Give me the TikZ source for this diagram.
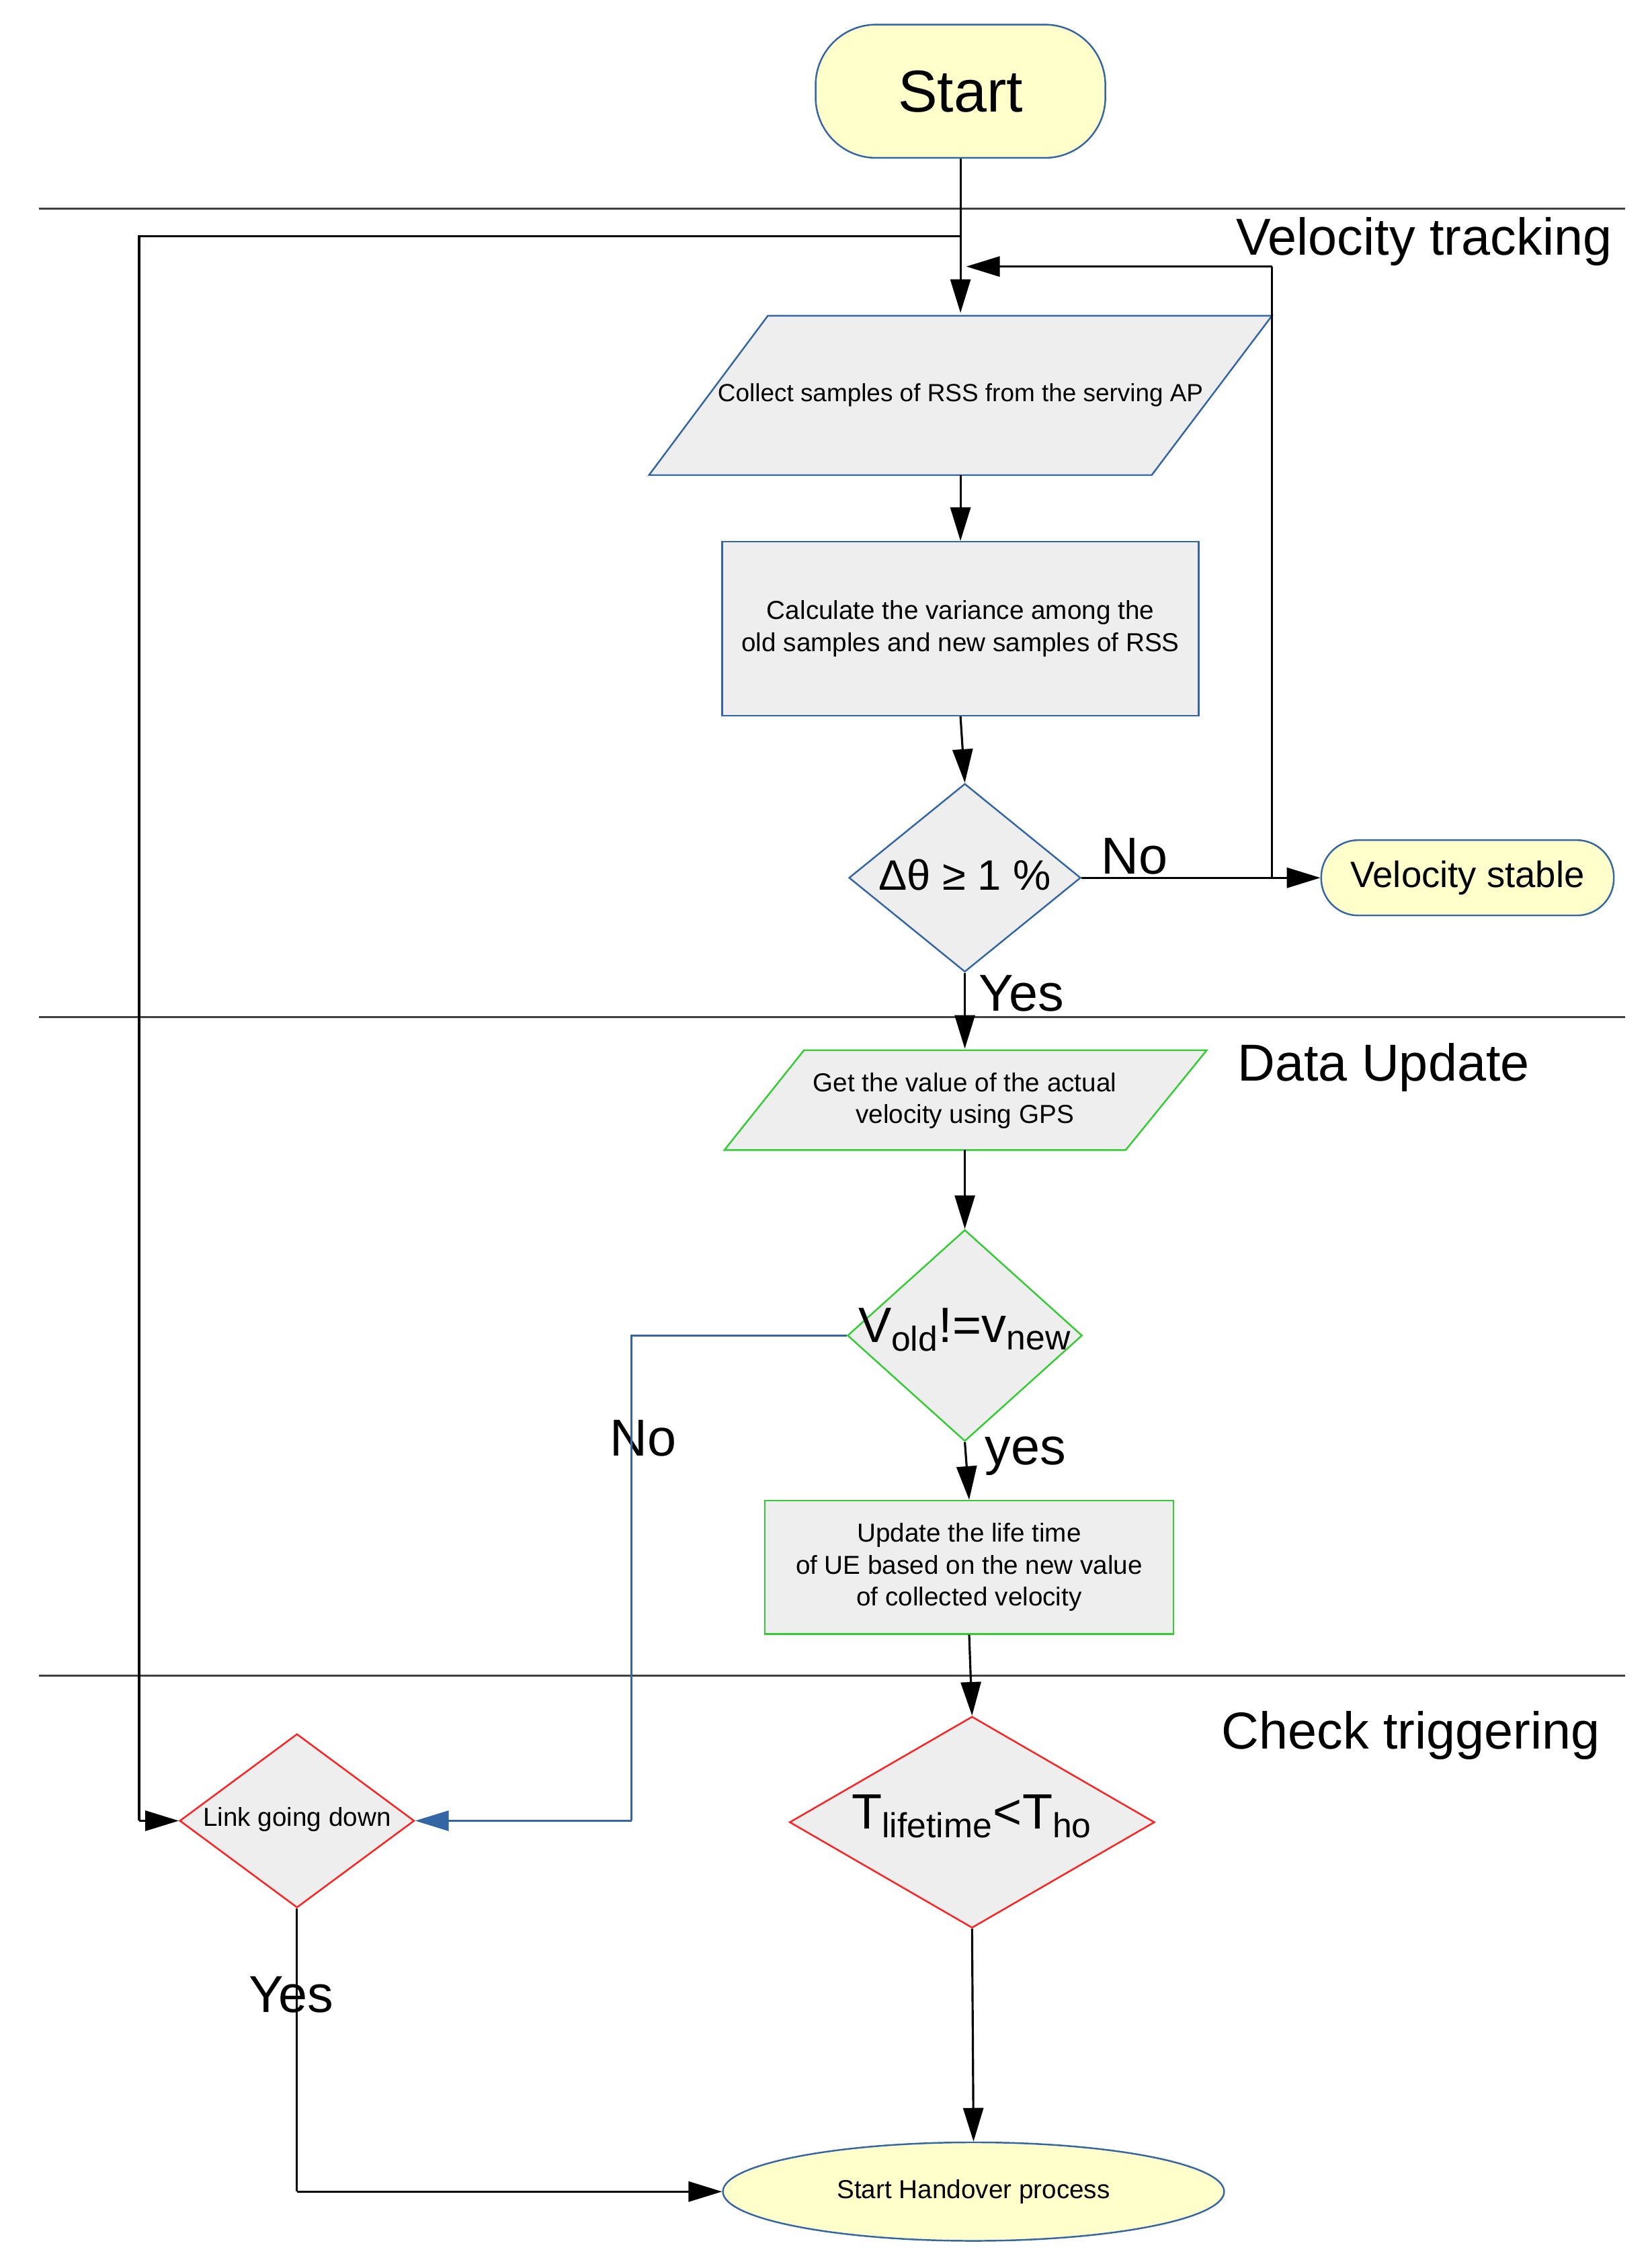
\documentclass[tikz,border=0pt]{standalone}
\usepackage{fontspec}
\setmainfont{Liberation Sans}
\usetikzlibrary{shapes.geometric,arrows.meta}
\definecolor{yel}{HTML}{FFFFCC}
\definecolor{bl}{HTML}{3465A4}
\definecolor{gr}{HTML}{EEEEEE}
\definecolor{grn}{HTML}{33CC33}
\definecolor{rd}{HTML}{FF2020}
\def\p{0.02155cm}
\begin{document}
\begin{tikzpicture}[x=0.02155cm,y=-0.02155cm,
  arr/.style={-{Triangle[length=0.5cm,width=0.3cm]},line width=0.9pt},
  ln/.style={line width=0.9pt},
  term/.style={draw=bl,fill=yel,line width=0.7pt},
  box/.style={draw,fill=gr,line width=0.7pt,align=center,font=\fontsize{11}{13.5}\selectfont},
  dia/.style={diamond,draw,fill=gr,line width=0.7pt,inner sep=0pt},
  big/.style={font=\fontsize{22}{26}\selectfont},
  sep/.style={line width=0.9pt,black!75}]
\useasboundingbox (0,0) rectangle (1140,1563);
% separators
\draw[sep] (27,144) -- (1122,144);
\draw[sep] (27,702) -- (1122,702);
\draw[sep] (27,1157) -- (1122,1157);
\node[big] (lvt) at (983,167) {Velocity tracking};
\node[big] (ldu) at (955,737) {Data Update};
\node[big] (lct) at (974,1198) {Check triggering};
% start
\node[term,rounded corners=0.9cm,minimum width=200*\p,minimum height=92*\p,font=\fontsize{25}{30}\selectfont] (start) at (663,63) {Start};
% collect parallelogram
\draw[draw=bl,fill=gr,line width=0.7pt] (530,218) -- (878,218) -- (795,328) -- (448,328) -- cycle;
\node[font=\fontsize{10.5}{13}\selectfont,minimum height=110*\p] (collect) at (663,273) {Collect samples of RSS from the serving AP};
% variance
\node[box,draw=bl,minimum width=329*\p,minimum height=120*\p] (var) at (663,434) {Calculate the variance among the\\old samples and new samples of RSS};
% decision 1
\node[dia,draw=bl,aspect=1.23,minimum width=160*\p,minimum height=130*\p] (d1) at (666,606) {};
\node[font=\fontsize{18}{20}\selectfont] at (666,604) {Δθ ≥ 1 \%};
\node[term,rounded corners=0.55cm,minimum width=202*\p,minimum height=52*\p,font=\fontsize{15.5}{18}\selectfont] (vs) at (1013,606) {Velocity stable};
\node[big] at (783,591) {No};
\node[big] at (705,686) {Yes};
% GPS parallelogram
\draw[draw=grn,fill=gr,line width=0.7pt] (555,725) -- (833,725) -- (777,794) -- (500,794) -- cycle;
\node[align=center,font=\fontsize{11}{13.5}\selectfont,minimum height=69*\p] (gps) at (666,760) {Get the value of the actual\\velocity using GPS};
% decision 2
\node[dia,draw=grn,aspect=1.11,minimum width=162*\p,minimum height=146*\p] (d2) at (666,922) {};
\node[font=\fontsize{21}{24}\selectfont] at (666,918) {V\textsubscript{old}!=v\textsubscript{new}};
\node[big] at (444,993) {No};
\node[big] at (708,1005) {yes};
% update
\node[box,draw=grn,minimum width=282*\p,minimum height=92*\p] (upd) at (669,1082) {Update the life time\\of UE based on the new value\\of collected velocity};
% decision 3
\node[dia,draw=rd,aspect=1.73,minimum width=252*\p,minimum height=146*\p] (d3) at (671,1258) {};
\node[font=\fontsize{21}{24}\selectfont] at (671,1254) {T\textsubscript{lifetime}<T\textsubscript{ho}};
% link going down
\node[dia,draw=rd,aspect=1.35,minimum width=162*\p,minimum height=120*\p] (lgd) at (205,1257) {};
\node[font=\fontsize{11}{13}\selectfont] at (205,1256) {Link going down};
\node[big] at (201,1377) {Yes};
% handover
\node[ellipse,draw=bl,fill=yel,line width=0.7pt,minimum width=346*\p,minimum height=68*\p,font=\fontsize{11}{13}\selectfont] (ho) at (672,1513) {Start Handover process};
% connectors
\coordinate (j1) at (663,163);
\coordinate (j2) at (96,163);
\coordinate (j3) at (96,1257);
\draw[arr] (start) -- (663,216);
\draw[ln] (j1) -- (j2) -- (j3);
\draw[arr] (j3) -- (lgd.west);
\draw[arr] (663,328) -- (var.north);
\draw[arr] (var.south) -- (d1.north);
\draw[arr] (d1.east) -- (vs.west);
\coordinate (r1) at (878,606);
\coordinate (r2) at (878,184);
\draw[ln] (r1) -- (r2);
\draw[arr] (r2) -- (667,184);
\draw[arr] (d1.south) -- (666,724);
\draw[arr] (666,794) -- (d2.north);
\draw[arr] (d2.south) -- (upd.north);
\coordinate (b1) at (436,922);
\coordinate (b2) at (436,1257);
\draw[ln,bl] (d2.west) -- (b1) -- (b2);
\draw[arr,bl] (b2) -- (lgd.east);
\draw[arr] (upd.south) -- (d3.north);
\draw[arr] (d3.south) -- (ho.north);
\coordinate (c1) at (205,1513);
\draw[ln] (lgd.south) -- (c1);
\draw[arr] (c1) -- (ho.west);
\end{tikzpicture}
\end{document}
